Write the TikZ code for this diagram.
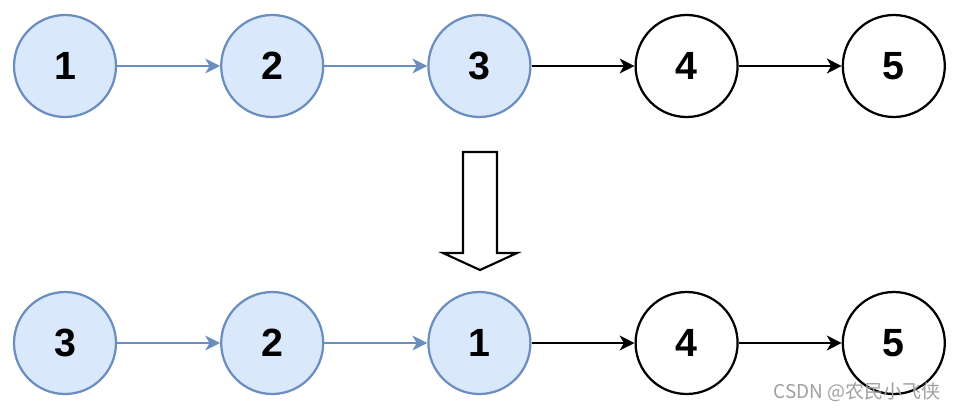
\documentclass[tikz,border=0pt]{standalone}
\usepackage{fontspec}
\setsansfont{Liberation Sans}
\newfontfamily\cjkfont{Noto Sans CJK SC}
\usetikzlibrary{arrows.meta}
\definecolor{bluefill}{HTML}{DAE8FC}
\definecolor{blueline}{HTML}{6C8EBF}
\begin{document}
\begin{tikzpicture}[-{Stealth[length=10.5pt,width=10.5pt,inset=3pt]},auto,node distance=5.18cm,
        line width=1.6pt,
        blue node/.style={circle,draw=blueline,fill=bluefill,minimum size=2.55cm,font=\sffamily\bfseries\fontsize{28}{30}\selectfont},
        plain node/.style={circle,draw=black,fill=white,minimum size=2.55cm,font=\sffamily\bfseries\fontsize{28}{30}\selectfont}]

        \useasboundingbox (0,0) rectangle (24.05,-10.3);

        % Define vertices (before)
        \node[blue node] (1) at (1.625,-1.65) {1};
        \node[blue node] (2) [right of=1] {2};
        \node[blue node] (3) [right of=2] {3};
        \node[plain node] (4) [right of=3] {4};
        \node[plain node] (5) [right of=4] {5};

        % Define vertices (after)
        \node[blue node] (r3) at (1.625,-8.575) {3};
        \node[blue node] (r2) [right of=r3] {2};
        \node[blue node] (r1) [right of=r2] {1};
        \node[plain node] (r4) [right of=r1] {4};
        \node[plain node] (r5) [right of=r4] {5};

        % Draw edges
        \path[blueline]
            (1) edge (2)
            (2) edge (3)
            (r3) edge (r2)
            (r2) edge (r1);
        \path[black]
            (3) edge (4)
            (4) edge (5)
            (r1) edge (r4)
            (r4) edge (r5);

        % Hollow arrow between the rows
        \draw[-,line width=1.5pt,line join=miter] (11.575,-3.8) -- (12.425,-3.8) -- (12.425,-6.325)
            -- (12.925,-6.325) -- (12,-6.75) -- (11.075,-6.325) -- (11.575,-6.325) -- cycle;

        \node[anchor=east,text=gray!75,font=\cjkfont\fontsize{13.5}{15}\selectfont] (mark) at (23.65,-9.8) {CSDN @农民小飞侠};

        \end{tikzpicture}
\end{document}
